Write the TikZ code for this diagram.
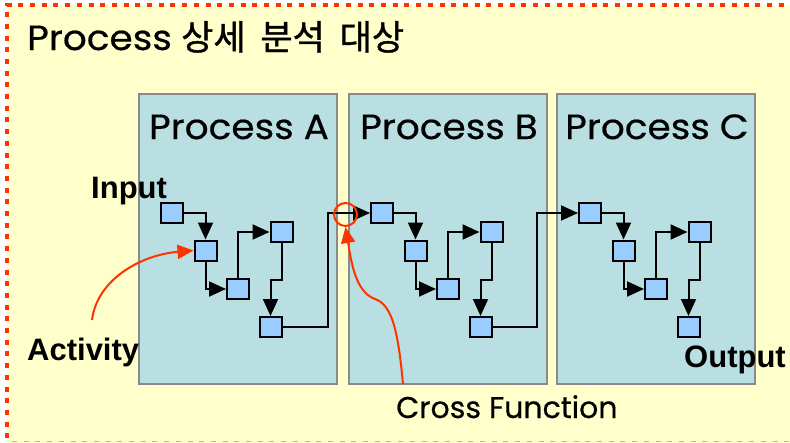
\documentclass[tikz,border=0pt]{standalone}
\usepackage{fontspec}
\setmainfont{Poppins}[FakeBold=0.5]
\newfontfamily\wideFont{Poppins}[FakeStretch=1.07,FakeBold=0.5]
\newfontfamily\krfont{Noto Sans CJK KR}[FakeBold=1.2]
\newfontfamily\labfont{Liberation Sans}
\usetikzlibrary{arrows.meta,calc}
\definecolor{bgyellow}{HTML}{FFFFCC}
\definecolor{bordred}{HTML}{FF3300}
\definecolor{procfill}{HTML}{B9DFE3}
\definecolor{procdraw}{HTML}{8A8A8A}
\definecolor{actfill}{HTML}{99CCFF}
\tikzset{
  procbox/.style={draw=procdraw, fill=procfill, line width=2.2pt},
  act/.style={draw=black, fill=actfill, line width=2pt, minimum width=22pt, minimum height=20pt, inner sep=0pt},
  flow/.style={draw=black, line width=2pt, -{Triangle[length=17pt,width=15pt]}},
  redarr/.style={draw=bordred, line width=2pt, -{Triangle[length=16pt,width=14pt]}},
  lab/.style={font=\labfont\bfseries\fontsize{31}{36}\selectfont, inner sep=0pt, anchor=base west},
  ptitle/.style={font=\wideFont\fontsize{35}{40}\selectfont, inner sep=0pt, anchor=base},
}
\begin{document}
\begin{tikzpicture}[x=1pt,y=-1pt]
\useasboundingbox (0,0) rectangle (790,442);
\clip (0,0) rectangle (790,442);
\fill[white] (0,0) rectangle (790,442);
\fill[bgyellow] (7,5) rectangle (800,450);
\draw[bordred, line width=4.5pt, dash pattern=on 5pt off 6.7pt] (7,450) -- (7,5) -- (800,5);
\draw[bordred!50, line width=1.5pt, dash pattern=on 5pt off 6.7pt] (12,441.5) -- (800,441.5);

\node[inner sep=0pt, anchor=base west, font=\fontsize{35}{40}\selectfont] (title) at (27,50) {{\wideFont Process} {\krfont 상세\hspace{7pt} 분석\hspace{7pt} 대상}};

\foreach \n/\dx/\lt in {A/0/A, B/210/B, C/418/C} {
  \draw[procbox] (139+\dx,94) rectangle (337+\dx,384);
  \node[ptitle] (t\n) at (239+\dx,139) {Process \lt};
  \node[act] (\n1) at (172+\dx,213) {};
  \node[act] (\n2) at (205.5+\dx,250.5) {};
  \node[act] (\n3) at (238+\dx,289) {};
  \node[act] (\n4) at (281.5+\dx,232) {};
  \node[act] (\n5) at (270.5+\dx,327) {};
  \draw[flow] (\n1.east) -| (\n2.north);
  \draw[flow] (\n2.south) |- (\n3.west);
  \draw[flow] (\n3.north) |- (\n4.west);
  \draw[flow] (\n4.south) |- ($(\n4.south)!0.5!(\n5.north)$) -| (\n5.north);
}
\draw[flow] (A5.east) -- ++(45,0) |- (B1.west);
\draw[flow] (B5.east) -- ++(44,0) |- (C1.west);

\node[lab] (input) at (91,198) {Input};
\node[lab] (activity) at (27,360) {Activity};
\node[lab] (output) at (684,367) {Output};
\node[inner sep=0pt, anchor=base west, font=\fontsize{30}{36}\selectfont] (cross) at (396,418) {Cross Function};

\node[draw=bordred, line width=2pt, circle, minimum size=23pt, inner sep=0pt] (cfc) at (345.5,214.5) {};
\coordinate (actstart) at (92,320);
\coordinate (cfstart) at (403,384);
\draw[redarr] (actstart) .. controls (97,280) and (140,255) .. (A2.west);
\draw[redarr] (cfstart) .. controls (398,330) and (392,305) .. (375,299) .. controls (355,292) and (351,260) .. (cfc.south);
\end{tikzpicture}
\end{document}
